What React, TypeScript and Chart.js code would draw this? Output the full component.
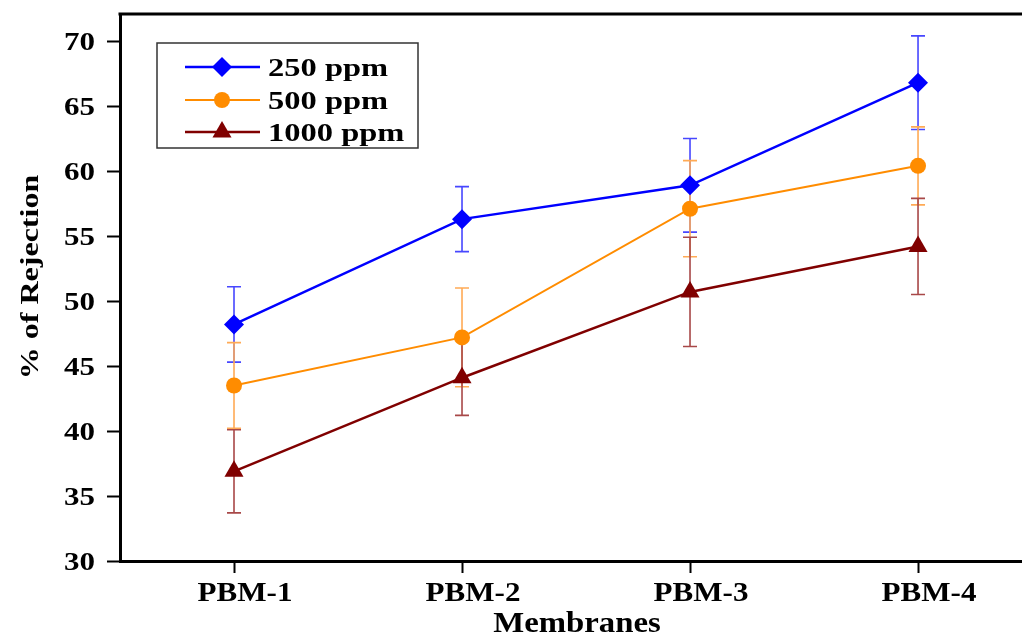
import React, { useEffect, useRef } from 'react';
import { Chart, registerables } from 'chart.js';

Chart.register(...registerables);

// Membrane categories and y-axis tick values
const membranes = ['PBM-1', 'PBM-2', 'PBM-3', 'PBM-4'];
const yTickValues = [30, 35, 40, 45, 50, 55, 60, 65, 70];

// Rejection (%) and standard deviation per feed concentration
const rejection250 = [48.2, 56.3, 58.9, 66.8];
const error250 = [2.9, 2.5, 3.6, 3.6];
const rejection500 = [43.5, 47.2, 57.1, 60.4];
const error500 = [3.3, 3.8, 3.7, 3.0];
const rejection1000 = [36.9, 44.1, 50.7, 54.2];
const error1000 = [3.2, 2.9, 4.2, 3.7];

const seriesLabels = ['250 ppm', '500 ppm', '1000 ppm'];

const FONT = '"Liberation Serif", "Times New Roman", serif';

type Marker = 'diamond' | 'circle' | 'triangle';

function wideText(
  ctx: CanvasRenderingContext2D,
  text: string,
  x: number,
  y: number,
  size: number,
  stretch: number,
  align: CanvasTextAlign,
  rotate = false
) {
  ctx.save();
  ctx.translate(x, y);
  if (rotate) ctx.rotate(-Math.PI / 2);
  ctx.scale(stretch, 1);
  ctx.font = `bold ${size}px ${FONT}`;
  ctx.fillStyle = '#000';
  ctx.textAlign = align;
  ctx.textBaseline = 'alphabetic';
  ctx.fillText(text, 0, 0);
  ctx.restore();
}

function drawMarker(ctx: CanvasRenderingContext2D, kind: Marker, x: number, y: number, r: number, color: string) {
  ctx.save();
  ctx.fillStyle = color;
  ctx.beginPath();
  if (kind === 'diamond') {
    ctx.moveTo(x - r, y);
    ctx.lineTo(x, y - r);
    ctx.lineTo(x + r, y);
    ctx.lineTo(x, y + r);
  } else if (kind === 'circle') {
    ctx.arc(x, y, r, 0, Math.PI * 2);
  } else {
    ctx.moveTo(x, y - r);
    ctx.lineTo(x + r * Math.sin(Math.PI / 3), y + r / 2);
    ctx.lineTo(x - r * Math.sin(Math.PI / 3), y + r / 2);
  }
  ctx.closePath();
  ctx.fill();
  ctx.restore();
}

const errorBarPlugin = {
  id: 'errorBars',
  beforeDatasetsDraw(chart: any) {
    const { ctx } = chart;
    const yScale = chart.scales.y;
    chart.data.datasets.forEach((ds: any, i: number) => {
      const meta = chart.getDatasetMeta(i);
      ctx.save();
      ctx.strokeStyle = ds.errorColor;
      ctx.lineWidth = 1.6;
      meta.data.forEach((pt: any, j: number) => {
        const v = ds.data[j].y;
        const e = ds.errors[j];
        const yHi = yScale.getPixelForValue(v + e);
        const yLo = yScale.getPixelForValue(v - e);
        const x = pt.x;
        ctx.beginPath();
        ctx.moveTo(x, yHi);
        ctx.lineTo(x, yLo);
        ctx.moveTo(x - 7, yHi);
        ctx.lineTo(x + 7, yHi);
        ctx.moveTo(x - 7, yLo);
        ctx.lineTo(x + 7, yLo);
        ctx.stroke();
      });
      ctx.restore();
    });
  },
};

const annotationPlugin = {
  id: 'textAndFrame',
  afterDraw(chart: any) {
    const { ctx, chartArea } = chart;
    const xScale = chart.scales.x;
    const yScale = chart.scales.y;

    // top frame line
    ctx.save();
    ctx.strokeStyle = '#000';
    ctx.lineWidth = 3;
    ctx.beginPath();
    ctx.moveTo(chartArea.left - 1.5, chartArea.top);
    ctx.lineTo(chartArea.right, chartArea.top);
    ctx.stroke();
    ctx.restore();

    // y tick labels
    yTickValues.forEach((v) => {
      wideText(ctx, String(v), 95, yScale.getPixelForValue(v) + 8.5, 25, 1.24, 'right');
    });

    // x tick labels
    membranes.forEach((m, i) => {
      wideText(ctx, m, xScale.getPixelForValue(i + 1) + 11, 601, 27, 1.15, 'center');
    });

    // axis titles
    wideText(ctx, 'Membranes', 577, 632, 29, 1.13, 'center');
    wideText(ctx, '% of Rejection', 38, 277, 25, 1.28, 'center', true);

    // legend
    const markers: Marker[] = ['diamond', 'circle', 'triangle'];
    const radii = [10, 8, 11];
    const rows = [67, 100, 132];
    ctx.save();
    ctx.strokeStyle = '#333';
    ctx.lineWidth = 1.5;
    ctx.strokeRect(157, 43, 261, 105);
    ctx.restore();
    chart.data.datasets.forEach((ds: any, i: number) => {
      const y = rows[i];
      ctx.save();
      ctx.strokeStyle = ds.borderColor;
      ctx.lineWidth = ds.borderWidth;
      ctx.beginPath();
      ctx.moveTo(185, y);
      ctx.lineTo(260, y);
      ctx.stroke();
      ctx.restore();
      drawMarker(ctx, markers[i], 222, y, radii[i], ds.borderColor);
      wideText(ctx, seriesLabels[i], 268, y + 8.5, 25, 1.3, 'left');
    });
  },
};

export default function App() {
  const canvasRef = useRef<HTMLCanvasElement | null>(null);

  useEffect(() => {
    const canvas = canvasRef.current;
    if (!canvas) return;

    const toPoints = (vals: number[]) => vals.map((v, i) => ({ x: i + 1, y: v }));

    const chart = new Chart(canvas, {
      type: 'line',
      data: {
        datasets: [
          {
            label: seriesLabels[0],
            data: toPoints(rejection250),
            errors: error250,
            borderColor: '#0000FF',
            backgroundColor: '#0000FF',
            errorColor: '#4747FF',
            borderWidth: 2.5,
            pointStyle: 'rectRot',
            pointRadius: 10,
            pointBorderWidth: 0,
          } as any,
          {
            label: seriesLabels[1],
            data: toPoints(rejection500),
            errors: error500,
            borderColor: '#FF8C00',
            backgroundColor: '#FF8C00',
            errorColor: '#FFAA55',
            borderWidth: 2,
            pointStyle: 'circle',
            pointRadius: 8,
            pointBorderWidth: 0,
          } as any,
          {
            label: seriesLabels[2],
            data: toPoints(rejection1000),
            errors: error1000,
            borderColor: '#800000',
            backgroundColor: '#800000',
            errorColor: '#A84848',
            borderWidth: 2.5,
            pointStyle: 'triangle',
            pointRadius: 11,
            pointBorderWidth: 0,
          } as any,
        ],
      },
      options: {
        responsive: false,
        animation: false,
        events: [],
        layout: { autoPadding: false, padding: { left: 0, top: 14, right: 0, bottom: 0 } },
        plugins: {
          legend: { display: false },
          tooltip: { enabled: false },
        },
        scales: {
          x: {
            type: 'linear',
            min: 0.5,
            max: 4.456,
            afterBuildTicks: (scale: any) => {
              scale.ticks = membranes.map((_, i) => ({ value: i + 1 }));
            },
            afterFit: (scale: any) => {
              scale.height = 76;
            },
            ticks: { display: false },
            grid: {
              display: true,
              drawOnChartArea: false,
              drawTicks: true,
              tickLength: 12,
              tickWidth: 2,
              tickColor: '#000',
            },
            border: { display: true, color: '#000', width: 3 },
          },
          y: {
            type: 'linear',
            min: 30,
            max: 72.08,
            afterBuildTicks: (scale: any) => {
              scale.ticks = yTickValues.map((v) => ({ value: v }));
            },
            afterFit: (scale: any) => {
              scale.width = 120;
            },
            ticks: { display: false },
            grid: {
              display: true,
              drawOnChartArea: false,
              drawTicks: true,
              tickLength: 13,
              tickWidth: 2,
              tickColor: '#000',
            },
            border: { display: true, color: '#000', width: 3 },
          },
        },
      } as any,
      plugins: [errorBarPlugin, annotationPlugin],
    });

    return () => chart.destroy();
  }, []);

  return (
    <div style={{ position: 'absolute', left: 0, top: 0, width: 1022, height: 637, background: '#fff', overflow: 'hidden' }}>
      <canvas ref={canvasRef} width={1022} height={637} />
    </div>
  );
}
